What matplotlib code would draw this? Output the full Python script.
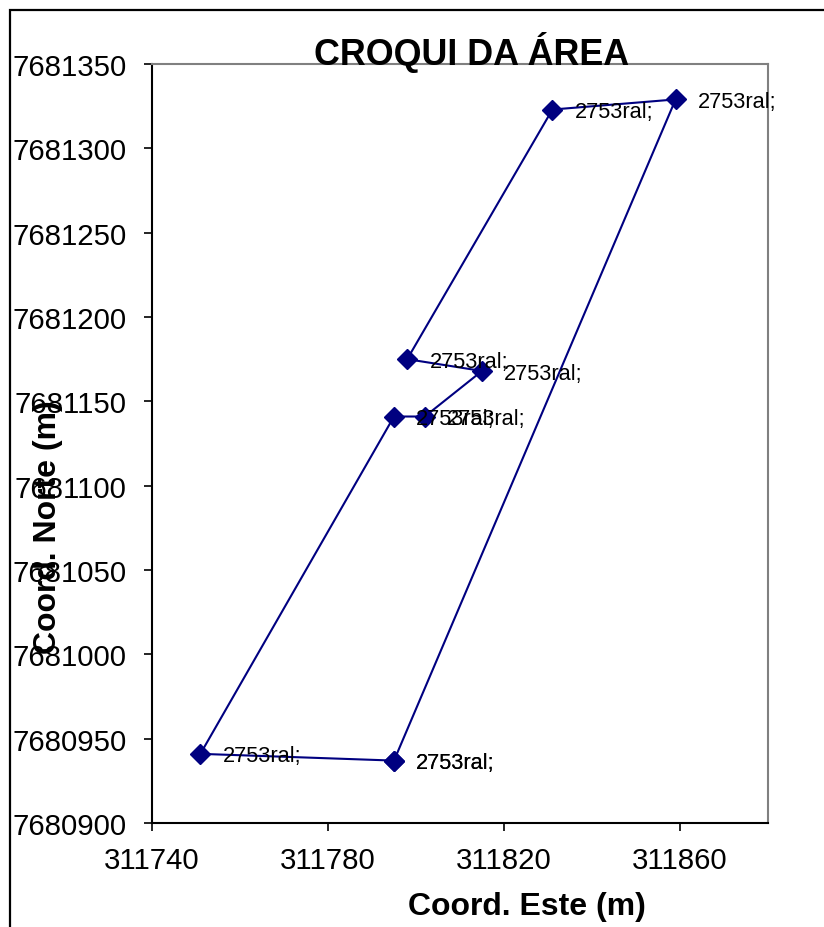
import matplotlib.pyplot as plt
from matplotlib.patches import Rectangle

# vertices of the area sketch (polygon closes back on the first point)
coord_este = [311795, 311859, 311831, 311798, 311815, 311802, 311795, 311751, 311795]
coord_norte = [7680937, 7681329, 7681323, 7681175, 7681168, 7681141, 7681141, 7680941, 7680937]
rotulos = ["2753ral;"] * len(coord_este)

x_ticks = [311740, 311780, 311820, 311860]
y_ticks = [7680900, 7680950, 7681000, 7681050, 7681100, 7681150, 7681200, 7681250, 7681300, 7681350]

plt.rcParams['font.family'] = ['Liberation Sans', 'DejaVu Sans']

W, H = 824, 928
fig = plt.figure(figsize=(W / 100, H / 100), dpi=100)
fig.patch.set_facecolor('white')

# moldura externa do grafico
fig.patches.append(Rectangle((10 / W, -0.1), 1.2, 1.1 - 11 / H, transform=fig.transFigure,
                             fill=False, edgecolor='black', linewidth=1.6))

ax = fig.add_axes([152 / W, (H - 824) / H, (768 - 152) / W, (824 - 65) / H])
ax.plot(coord_este, coord_norte, color='#000080', linewidth=1.5,
        marker='D', markersize=10.5, markerfacecolor='#000080', markeredgecolor='#000080')

for x, y, r in zip(coord_este, coord_norte, rotulos):
    ax.annotate(r, (x, y), xytext=(16, -1.5), textcoords='offset points',
                ha='left', va='center', fontsize=15.7, color='black')

ax.set_xlim(311740, 311880)
ax.set_ylim(7680900, 7681350)
ax.set_xticks(x_ticks)
ax.set_yticks(y_ticks)
ax.ticklabel_format(useOffset=False, style='plain')
ax.tick_params(axis='both', direction='out', length=5.5, width=1.2, labelsize=21.2, colors='black')
ax.tick_params(axis='y', pad=13)
ax.tick_params(axis='x', pad=11)

for s in ['left', 'bottom']:
    ax.spines[s].set_color('black')
    ax.spines[s].set_linewidth(1.5)
for s in ['top', 'right']:
    ax.spines[s].set_color('#808080')
    ax.spines[s].set_linewidth(1.5)

fig.text(472 / W, 1 - 65 / H, "CROQUI DA ÁREA", ha='center', va='baseline',
         fontsize=25.8, fontweight='bold')
fig.text(527 / W, 1 - 907 / H, "Coord. Este (m)", ha='center', va='center',
         fontsize=23, fontweight='bold')
fig.text(48 / W, 1 - 527 / H, "Coord. Norte (m)", ha='center', va='center',
         rotation=90, fontsize=23, fontweight='bold')

fig.savefig('out.png', dpi=100)
